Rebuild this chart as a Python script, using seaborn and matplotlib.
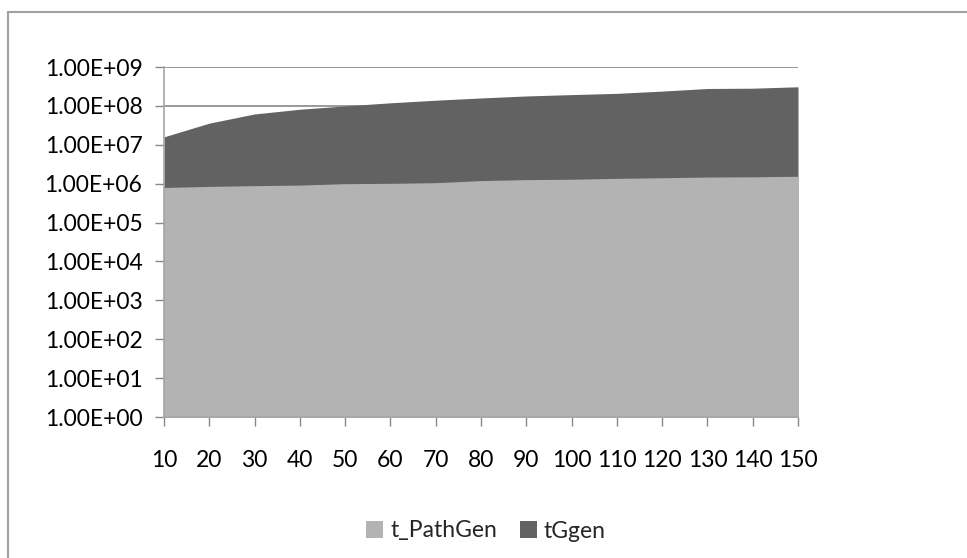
import matplotlib
matplotlib.use("Agg")
import matplotlib.pyplot as plt
from matplotlib.lines import Line2D
from matplotlib.patches import Patch
from matplotlib.ticker import FixedLocator, FixedFormatter, NullLocator
import seaborn as sns
import pandas as pd

# Path count per run
categories = [10, 20, 30, 40, 50, 60, 70, 80, 90, 100, 110, 120, 130, 140, 150]
# Path generation time
t_pathgen = [8.0e5, 8.5e5, 8.9e5, 9.2e5, 1.0e6, 1.02e6, 1.06e6, 1.2e6, 1.27e6,
             1.3e6, 1.37e6, 1.42e6, 1.48e6, 1.5e6, 1.55e6]
# Graph generation time
tggen = [1.6e7, 3.6e7, 6.2e7, 8.2e7, 1.0e8, 1.2e8, 1.4e8, 1.6e8, 1.8e8,
         1.95e8, 2.1e8, 2.4e8, 2.8e8, 2.85e8, 3.1e8]
y_ticks = [1e0, 1e1, 1e2, 1e3, 1e4, 1e5, 1e6, 1e7, 1e8, 1e9]
y_tick_labels = ["1.00E+00", "1.00E+01", "1.00E+02", "1.00E+03", "1.00E+04",
                 "1.00E+05", "1.00E+06", "1.00E+07", "1.00E+08", "1.00E+09"]

df = pd.DataFrame({"n": categories, "t_PathGen": t_pathgen, "tGgen": tggen})

sns.set_theme(style="white")
plt.rcParams["font.family"] = ["Lato", "DejaVu Sans"]

LIGHT = "#b3b3b3"
DARK = "#626262"
GRID = "#888888"
AXIS = "#a6a6a6"
FS = 16.5

W, H = 967, 558
fig = plt.figure(figsize=(W / 100, H / 100), dpi=100)
ax = fig.add_axes([164 / W, 1 - 417 / H, (798 - 164) / W, (417 - 67) / H])

ax.set_yscale("log")
for col, color, z in [("tGgen", DARK, 2), ("t_PathGen", LIGHT, 3)]:
    sns.lineplot(data=df, x="n", y=col, ax=ax, color=color, linewidth=0, zorder=z)
    ax.fill_between(df["n"], 1, df[col], color=color, linewidth=0, zorder=z)

ax.set_xlim(10, 150)
ax.set_ylim(1, 1e9)
ax.yaxis.set_major_locator(FixedLocator(y_ticks))
ax.yaxis.set_major_formatter(FixedFormatter(y_tick_labels))
ax.yaxis.set_minor_locator(NullLocator())
ax.set_xticks(categories)
ax.set_xticklabels([str(c) for c in categories])
ax.set_xlabel("")
ax.set_ylabel("")

ax.grid(axis="y", color=GRID, linewidth=1.2, zorder=1)
ax.grid(axis="x", visible=False)
ax.set_axisbelow(True)

for side in ["top", "right"]:
    ax.spines[side].set_visible(False)
for side in ["left", "bottom"]:
    ax.spines[side].set_color(AXIS)
    ax.spines[side].set_linewidth(1.2)
    ax.spines[side].set_zorder(4)

ax.tick_params(axis="y", which="major", direction="out", length=6.5, width=1,
               color=GRID, labelsize=FS, pad=9, left=True, labelcolor="black")
ax.tick_params(axis="x", which="major", direction="out", length=6.5, width=1,
               color=GRID, labelsize=FS, pad=17, bottom=True, labelcolor="black")

# Chart-area frame
frame_kw = dict(color="#a0a0a0", linewidth=1.5, transform=fig.transFigure)
fig.add_artist(Line2D([8 / W, 1.0], [1 - 12 / H, 1 - 12 / H], **frame_kw))
fig.add_artist(Line2D([8 / W, 8 / W], [0, 1 - 12 / H], **frame_kw))

handles = [Patch(facecolor=LIGHT, edgecolor="none", label="t_PathGen"),
           Patch(facecolor=DARK, edgecolor="none", label="tGgen")]
fig.legend(handles=handles, loc="center", bbox_to_anchor=(486 / W, 1 - 531 / H),
           ncol=2, frameon=False, fontsize=FS, handlelength=0.75, handleheight=0.75,
           handletextpad=0.3, columnspacing=1.0)

fig.savefig("out.png", dpi=100)
